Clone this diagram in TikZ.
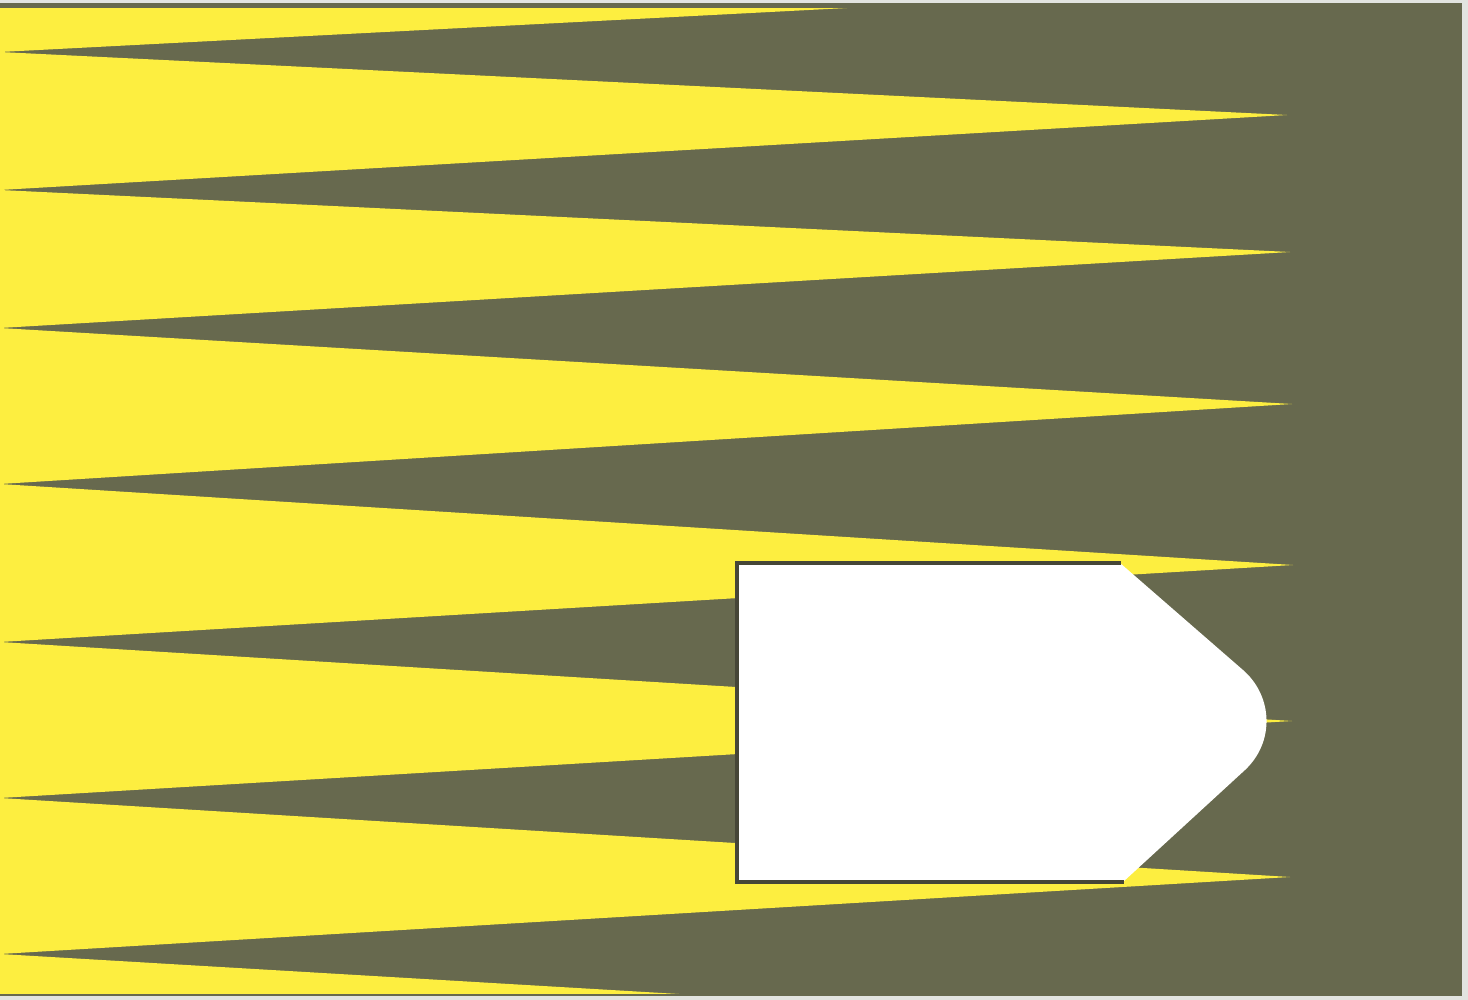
\documentclass[tikz,border=0pt]{standalone}
\definecolor{olive}{RGB}{103,105,78}
\definecolor{sunyellow}{RGB}{253,238,64}
\definecolor{paper}{RGB}{226,228,224}
\definecolor{edge}{RGB}{70,70,55}
\tikzset{ray/.style={fill=sunyellow,draw=none},
  bulletfill/.style={fill=white,draw=none},
  bulletedge/.style={draw=edge,line width=0.9pt,line join=miter}}
\begin{document}
\begin{tikzpicture}[x=0.01cm,y=-0.01cm]
\useasboundingbox (0,0) rectangle (1468,1000);
\fill[paper] (0,0) rectangle (1468,1000);
\fill[olive] (0,3) rectangle (1462,996);
\begin{scope}
\clip (0,9) rectangle (1462,993);
\fill[ray] (0,-200) -- (0,52) -- (1290,-15) -- cycle;
\fill[ray] (0,52) -- (0,190) -- (1287,115) -- cycle;
\fill[ray] (0,190) -- (0,328) -- (1290,252) -- cycle;
\fill[ray] (0,328) -- (0,484) -- (1292,404) -- cycle;
\fill[ray] (0,484) -- (0,642) -- (1293,565) -- cycle;
\fill[ray] (0,642) -- (0,798) -- (1292,721) -- cycle;
\fill[ray] (0,798) -- (0,954) -- (1290,877) -- cycle;
\fill[ray] (0,954) -- (0,1200) -- (1290,1030) -- cycle;
\end{scope}
\fill[bulletfill] (737,563) -- (1120,563) -- (1243,670)
  .. controls (1273,696) and (1275,742) .. (1245,770)
  -- (1123,882) -- (737,882) -- cycle;
\draw[bulletedge] (1121,563) -- (737,563) -- (737,882) -- (1124,882);
\end{tikzpicture}
\end{document}
